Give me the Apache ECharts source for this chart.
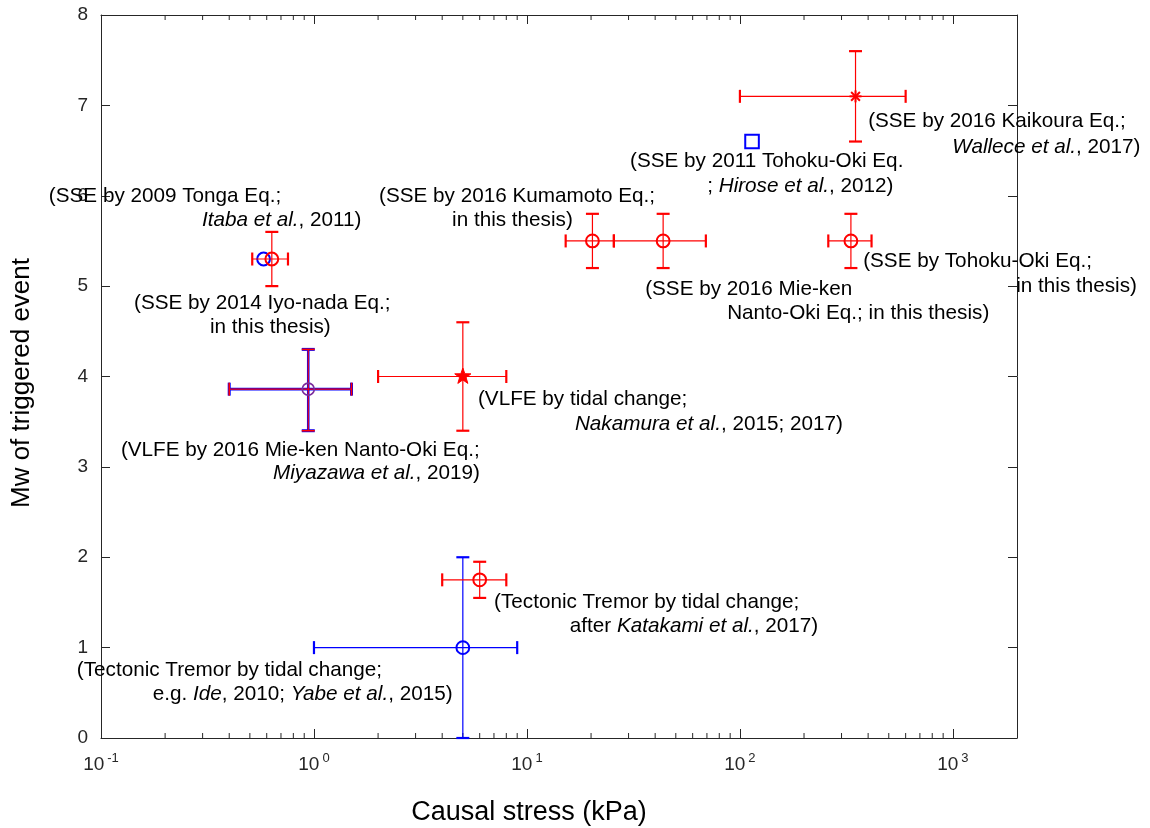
<!DOCTYPE html>
<html><head><meta charset="utf-8">
<script src="https://cdn.jsdelivr.net/npm/echarts@6/dist/echarts.min.js"></script>
<style>html,body{margin:0;padding:0;background:#fff}#c{width:1150px;height:828px}</style>
</head><body><div id="c"></div>
<script>
const FONT = '"Liberation Sans", Arial, Helvetica, sans-serif';

// ---------------- data ----------------
// red points with error bars
const redNames    = ['Iyo-nada 2014', 'Kumamoto 2016', 'Mie-ken Nanto-Oki 2016', 'Tohoku-Oki', 'Tremor (Katakami)', 'Kaikoura 2016', 'VLFE tidal'];
const redMarkers  = ['circle', 'circle', 'circle', 'circle', 'circle', 'asterisk', 'star'];
const redStress   = [0.634, 20.3, 43.6, 332, 6.0, 349, 5.0];
const redStressLo = [0.513, 15.2, 25.6, 260, 4.0, 100, 2.0];
const redStressHi = [0.755, 25.6, 69.2, 415, 8.0, 600, 8.0];
const redMw       = [5.3, 5.5, 5.5, 5.5, 1.75, 7.1, 4.0];
const redMwLo     = [5.0, 5.2, 5.2, 5.2, 1.55, 6.6, 3.4];
const redMwHi     = [5.6, 5.8, 5.8, 5.8, 1.95, 7.6, 4.6];

// blue point with error bars
const blueNames    = ['Tremor (Ide; Yabe)'];
const blueStress   = [5.0];
const blueStressLo = [1.0];
const blueStressHi = [9.0];
const blueMw       = [1.0];
const blueMwLo     = [0.0];
const blueMwHi     = [2.0];

// red + blue (overlapping) VLFE point
const vlfeNames    = ['VLFE Mie-ken Nanto-Oki 2016'];
const vlfeStress   = [0.94];
const vlfeStressLo = [0.40];
const vlfeStressHi = [1.50];
const vlfeMw       = [3.86];
const vlfeMwLo     = [3.40];
const vlfeMwHi     = [4.30];

// blue markers without error bars
const blueOnlyNames   = ['Tonga 2009', 'Tohoku-Oki 2011 (Hirose)'];
const blueOnlyMarkers = ['circle', 'square'];
const blueOnlyStress  = [0.58, 114];
const blueOnlyMw      = [5.3, 6.6];

// axis ticks
const xMajorTicks = [0.1, 1, 10, 100, 1000];
const xMinorTicks = [0.2,0.3,0.4,0.5,0.6,0.7,0.8,0.9, 2,3,4,5,6,7,8,9, 20,30,40,50,60,70,80,90, 200,300,400,500,600,700,800,900];
const yTicks = [0,1,2,3,4,5,6,7,8];

// annotation texts and their anchor (data coordinates, left / middle)
const noteTexts = [
  '{n|(SSE by 2016 Kaikoura Eq.;}', '{i|Wallece et al.}{n|, 2017)}',
  '{n|(SSE by 2011 Tohoku-Oki Eq.}', '{n|; }{i|Hirose et al.}{n|, 2012)}',
  '{n|(SSE by 2009 Tonga Eq.;}', '{i|Itaba et al.}{n|, 2011)}',
  '{n|(SSE by 2016 Kumamoto Eq.;}', '{n|in this thesis)}',
  '{n|(SSE by Tohoku-Oki Eq.;}', '{n|in this thesis)}',
  '{n|(SSE by 2016 Mie-ken}', '{n|Nanto-Oki Eq.; in this thesis)}',
  '{n|(SSE by 2014 Iyo-nada Eq.;}', '{n|in this thesis)}',
  '{n|(VLFE by tidal change;}', '{i|Nakamura et al.}{n|, 2015; 2017)}',
  '{n|(VLFE by 2016 Mie-ken Nanto-Oki Eq.;}', '{i|Miyazawa et al.}{n|, 2019)}',
  '{n|(Tectonic Tremor by tidal change;}', '{n|after }{i|Katakami et al.}{n|, 2017)}',
  '{n|(Tectonic Tremor by tidal change;}', '{n|e.g. }{i|Ide}{n|, 2010; }{i|Yabe et al.}{n|, 2015)}'
];
const noteX = [400, 993, 30.5, 70.2, 0.0569, 0.298, 2.02, 4.45, 379, 1983, 35.9, 87.1, 0.143, 0.325, 5.89, 16.8, 0.124, 0.642, 7.01, 15.9, 0.077, 0.175];
const noteY = [6.82, 6.54, 6.385, 6.11, 5.99, 5.73, 5.99, 5.73, 5.28, 5.00, 4.96, 4.70, 4.81, 4.545, 3.75, 3.47, 3.18, 2.93, 1.505, 1.24, 0.752, 0.487];

// ---------------- helpers ----------------
const RED = '#ff0000', BLUE = '#0000ff', AXC = '#262626';

function markerShape(type, cx, cy, color, lw) {
  if (type === 'circle') {
    return {type: 'circle', shape: {cx: cx, cy: cy, r: 6.4}, style: {fill: 'transparent', stroke: color, lineWidth: lw}};
  }
  if (type === 'square') {
    return {type: 'rect', shape: {x: cx - 6.8, y: cy - 6.8, width: 13.6, height: 13.6}, style: {fill: 'transparent', stroke: color, lineWidth: lw}};
  }
  if (type === 'star') {
    const pts = [];
    for (let k = 0; k < 10; k++) {
      const a = -Math.PI / 2 + k * Math.PI / 5;
      const r = k % 2 === 0 ? 8.5 : 3.4;
      pts.push([cx + r * Math.cos(a), cy + r * Math.sin(a)]);
    }
    return {type: 'polygon', shape: {points: pts}, style: {fill: color, stroke: color, lineWidth: 1}};
  }
  // asterisk
  const s = 6, d = 4.4;
  return {type: 'group', children: [
    {type: 'line', shape: {x1: cx - s, y1: cy, x2: cx + s, y2: cy}, style: {stroke: color, lineWidth: lw}},
    {type: 'line', shape: {x1: cx, y1: cy - s, x2: cx, y2: cy + s}, style: {stroke: color, lineWidth: lw}},
    {type: 'line', shape: {x1: cx - d, y1: cy - d, x2: cx + d, y2: cy + d}, style: {stroke: color, lineWidth: lw}},
    {type: 'line', shape: {x1: cx - d, y1: cy + d, x2: cx + d, y2: cy - d}, style: {stroke: color, lineWidth: lw}}
  ]};
}

function barLines(api, color, lw, capW, capHalf) {
  const x = api.value(0), y = api.value(1), xl = api.value(2), xh = api.value(3), yl = api.value(4), yh = api.value(5);
  const c = api.coord([x, y]);
  const pl = api.coord([xl, y]), ph = api.coord([xh, y]);
  const pb = api.coord([x, yl]), pt = api.coord([x, yh]);
  const L = (x1, y1, x2, y2, w) => ({type: 'line', shape: {x1: x1, y1: y1, x2: x2, y2: y2}, style: {stroke: color, lineWidth: w}});
  return {c: c, els: [
    L(pl[0], c[1], ph[0], c[1], lw),
    L(c[0], pb[1], c[0], pt[1], lw),
    L(pl[0], c[1] - capHalf, pl[0], c[1] + capHalf, capW),
    L(ph[0], c[1] - capHalf, ph[0], c[1] + capHalf, capW),
    L(c[0] - capHalf, pb[1], c[0] + capHalf, pb[1], capW),
    L(c[0] - capHalf, pt[1], c[0] + capHalf, pt[1], capW)
  ]};
}

function errData(xs, xlo, xhi, ys, ylo, yhi) {
  return xs.map((v, i) => [v, ys[i], xlo[i], xhi[i], ylo[i], yhi[i]]);
}

const richStyle = {
  n: {fontFamily: FONT, fontSize: 20.7, color: '#000', fill: '#000'},
  i: {fontFamily: FONT, fontSize: 20.7, fontStyle: 'italic', color: '#000', fill: '#000'}
};

const chart = echarts.init(document.getElementById('c'), null, {renderer: 'canvas'});

const axisLineStyle = {color: AXC, width: 1};

const option = {
  backgroundColor: '#ffffff',
  animation: false,
  grid: {left: 101, right: 133, top: 15, bottom: 90, containLabel: false},
  xAxis: [
    {
      type: 'log', logBase: 10, min: 0.1, max: 2000, position: 'bottom',
      axisLine: {show: true, onZero: false, lineStyle: axisLineStyle},
      axisTick: {show: true, inside: true, length: 9, lineStyle: axisLineStyle},
      splitLine: {show: false}, minorTick: {show: false},
      axisLabel: {
        margin: 14,
        showMaxLabel: false,
        formatter: function (v) {
          const e = Math.round(Math.log10(v));
          if (Math.abs(Math.log10(v) - e) > 1e-6 || xMajorTicks.indexOf(Math.pow(10, e) < 1 ? 0.1 : Math.pow(10, e)) < 0) return '';
          return '{b|10}{s|' + e + '}';
        },
        rich: {
          b: {fontFamily: FONT, fontSize: 19, color: AXC, lineHeight: 22, padding: [7, 0, 0, 0], verticalAlign: 'bottom'},
          s: {fontFamily: FONT, fontSize: 13, color: AXC, lineHeight: 14, padding: [0, 0, 0, 3], verticalAlign: 'top'}
        }
      }
    },
    {
      type: 'log', logBase: 10, min: 0.1, max: 2000, position: 'top',
      axisLine: {show: true, onZero: false, lineStyle: axisLineStyle},
      axisTick: {show: true, inside: true, length: 9, lineStyle: axisLineStyle},
      axisLabel: {show: false}, splitLine: {show: false}
    }
  ],
  yAxis: [
    {
      type: 'value', min: 0, max: 8, interval: 1, position: 'left',
      axisLine: {show: true, onZero: false, lineStyle: axisLineStyle},
      axisTick: {show: true, inside: true, length: 9, lineStyle: axisLineStyle},
      splitLine: {show: false},
      axisLabel: {margin: 13, fontFamily: FONT, fontSize: 19, color: AXC,
        formatter: v => (yTicks.indexOf(v) >= 0 ? String(v) : '')}
    },
    {
      type: 'value', min: 0, max: 8, interval: 1, position: 'right',
      axisLine: {show: true, onZero: false, lineStyle: axisLineStyle},
      axisTick: {show: true, inside: true, length: 9, lineStyle: axisLineStyle},
      splitLine: {show: false}, axisLabel: {show: false}
    }
  ],
  graphic: [
    {type: 'text', x: 529, y: 813, style: {text: 'Causal stress (kPa)', fontFamily: FONT, fontSize: 27, fill: '#000', align: 'center', verticalAlign: 'middle'}},
    {type: 'text', x: 22, y: 383, rotation: Math.PI / 2, style: {text: 'Mw of triggered event', fontFamily: FONT, fontSize: 26, fill: '#000', align: 'center', verticalAlign: 'middle'}}
  ],
  series: [
    // minor ticks on bottom and top axes
    {
      type: 'custom', name: 'minor ticks', clip: false, silent: true, z: 1,
      data: xMinorTicks.map(v => [v, 0]),
      renderItem: function (params, api) {
        const b = api.coord([api.value(0), 0]);
        const t = api.coord([api.value(0), 8]);
        return {type: 'group', children: [
          {type: 'line', shape: {x1: b[0], y1: b[1], x2: b[0], y2: b[1] - 5}, style: {stroke: AXC, lineWidth: 1}},
          {type: 'line', shape: {x1: t[0], y1: t[1], x2: t[0], y2: t[1] + 5}, style: {stroke: AXC, lineWidth: 1}}
        ]};
      }
    },
    // blue markers without error bars
    {
      type: 'custom', name: 'blue markers', clip: false, z: 2,
      data: blueOnlyStress.map((v, i) => [v, blueOnlyMw[i]]),
      renderItem: function (params, api) {
        const c = api.coord([api.value(0), api.value(1)]);
        return markerShape(blueOnlyMarkers[params.dataIndex], c[0], c[1], BLUE, 2);
      }
    },
    // blue error bars
    {
      type: 'custom', name: 'blue', clip: false, z: 3,
      data: errData(blueStress, blueStressLo, blueStressHi, blueMw, blueMwLo, blueMwHi),
      renderItem: function (params, api) {
        const r = barLines(api, BLUE, 1.2, 2.2, 6.5);
        r.els.push(markerShape('circle', r.c[0], r.c[1], BLUE, 2));
        return {type: 'group', children: r.els};
      }
    },
    // VLFE (red over blue)
    {
      type: 'custom', name: 'vlfe', clip: false, z: 4,
      data: errData(vlfeStress, vlfeStressLo, vlfeStressHi, vlfeMw, vlfeMwLo, vlfeMwHi),
      renderItem: function (params, api) {
        const rb = barLines(api, BLUE, 2.6, 3, 6.5);
        const rr = barLines(api, RED, 1.1, 1.6, 6.5);
        const els = rb.els.concat(rr.els);
        els.push({type: 'circle', shape: {cx: rb.c[0], cy: rb.c[1], r: 6}, style: {fill: 'transparent', stroke: '#7a2a9c', lineWidth: 1.6}});
        return {type: 'group', children: els};
      }
    },
    // red error bars
    {
      type: 'custom', name: 'red', clip: false, z: 5,
      data: errData(redStress, redStressLo, redStressHi, redMw, redMwLo, redMwHi),
      renderItem: function (params, api) {
        const r = barLines(api, RED, 1.2, 2.2, 6.5);
        r.els.push(markerShape(redMarkers[params.dataIndex], r.c[0], r.c[1], RED, 2));
        return {type: 'group', children: r.els};
      }
    },
    // annotations
    {
      type: 'custom', name: 'notes', clip: false, silent: true, z: 10,
      data: noteX.map((v, i) => [v, noteY[i]]),
      renderItem: function (params, api) {
        const c = api.coord([api.value(0), api.value(1)]);
        return {type: 'text', x: c[0], y: c[1], style: {
          text: noteTexts[params.dataIndex], rich: richStyle,
          fontFamily: FONT, fontSize: 20.7, fill: '#000', align: 'left', verticalAlign: 'middle'
        }};
      }
    }
  ]
};
chart.setOption(option);
</script></body></html>
